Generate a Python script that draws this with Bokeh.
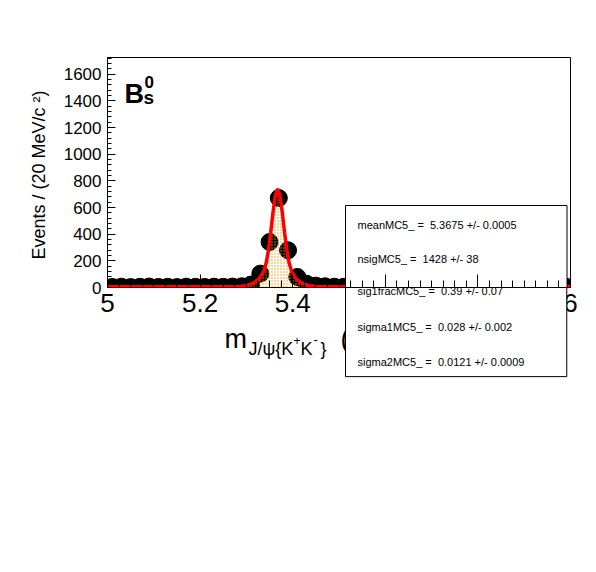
from bokeh.plotting import figure
from bokeh.models import Range1d, FixedTicker, Label, BoxAnnotation, ColumnDataSource
from bokeh.embed import file_html
from bokeh.resources import INLINE

# ---------------- data ----------------
bin_centers = [5.01, 5.03, 5.05, 5.07, 5.09, 5.11, 5.13, 5.15, 5.17, 5.19,
               5.21, 5.23, 5.25, 5.27, 5.29, 5.31, 5.33, 5.35, 5.37, 5.39,
               5.41, 5.43, 5.45, 5.47, 5.49, 5.51, 5.53, 5.55, 5.57, 5.59,
               5.61, 5.63, 5.65, 5.67, 5.69, 5.71, 5.73, 5.75, 5.77, 5.79,
               5.81, 5.83, 5.85, 5.87, 5.89, 5.91, 5.93, 5.95, 5.97, 5.99]
counts = [4, 6, 3, 5, 7, 4, 5, 3, 6, 5,
          4, 6, 5, 7, 9, 22, 104, 341, 671, 279,
          79, 28, 14, 9, 6, 5, 4, 6, 5, 4,
          5, 6, 4, 5, 3, 5, 6, 4, 5, 4,
          6, 5, 4, 5, 6, 4, 5, 3, 5, 6]

curve_x = [5.0, 5.2675, 5.2875, 5.2975, 5.3075, 5.3175, 5.3275, 5.3375, 5.3425,
           5.3475, 5.3525, 5.3575, 5.3625, 5.3675, 5.3725, 5.3775, 5.3825,
           5.3875, 5.3925, 5.3975, 5.4075, 5.4175, 5.4275, 5.4375, 5.4475,
           5.4675, 6.0]
total_pdf = [7, 7, 10, 14, 23, 39, 67, 123, 181, 277, 411, 564, 691, 740,
             691, 564, 411, 277, 181, 123, 67, 39, 23, 14, 10, 7, 7]
signal_pdf = [0, 0, 3, 7, 16, 32, 60, 116, 174, 270, 404, 557, 684, 733,
              684, 557, 404, 270, 174, 116, 60, 32, 16, 7, 3, 0, 0]

x_ticks = [5, 5.2, 5.4, 5.6, 5.8, 6]
x_tick_labels = ["5", "5.2", "5.4", "5.6", "5.8", "6"]
x_minor = [5 + 0.025 * i for i in range(41)]
y_ticks = [0, 200, 400, 600, 800, 1000, 1200, 1400, 1600]
y_minor = [40 * i for i in range(44)]

fit_lines = ["meanMC5_ =\u00a0 5.3675 +/- 0.0005",
             "nsigMC5_ =\u00a0 1428 +/- 38",
             "sig1fracMC5_ =\u00a0 0.39 +/- 0.07",
             "sigma1MC5_ =\u00a0 0.028 +/- 0.002",
             "sigma2MC5_ =\u00a0 0.0121 +/- 0.0009"]

FONT = "Liberation Sans"
X0, X1, Y0, Y1 = 5.0, 6.0, 0.0, 1725.0

# ---------------- figure ----------------
p = figure(width=596, height=572, output_backend="svg", toolbar_location=None,
           x_range=Range1d(X0, X1), y_range=Range1d(Y0, Y1),
           min_border_left=107, min_border_right=26,
           min_border_top=57, min_border_bottom=285)
p.grid.visible = False
p.outline_line_color = "black"
p.outline_line_width = 1
p.background_fill_color = "white"
p.border_fill_color = "white"

xa = p.xaxis[0]
xa.ticker = FixedTicker(ticks=x_ticks, minor_ticks=x_minor)
xa.major_label_overrides = {t: s for t, s in zip(x_ticks, x_tick_labels)}
xa.major_tick_in = 13
xa.major_tick_out = 0
xa.minor_tick_in = 7
xa.minor_tick_out = 0
xa.major_label_standoff = 6
xa.major_label_text_font = FONT
xa.major_label_text_font_size = "26px"
xa.major_label_text_color = "black"
xa.axis_line_color = "black"
xa.major_tick_line_color = "black"
xa.minor_tick_line_color = "black"

ya = p.yaxis[0]
ya.ticker = FixedTicker(ticks=y_ticks, minor_ticks=y_minor)
ya.major_tick_in = 8
ya.major_tick_out = 0
ya.minor_tick_in = 4
ya.minor_tick_out = 0
ya.major_label_standoff = 6
ya.major_label_text_font = FONT
ya.major_label_text_font_size = "17px"
ya.major_label_text_color = "black"
ya.axis_label = "Events / (20 MeV/c  ²)"
ya.axis_label_text_font = FONT
ya.axis_label_text_font_style = "normal"
ya.axis_label_text_font_size = "18px"
ya.axis_label_text_color = "black"
ya.axis_label_standoff = 12
ya.axis_line_color = "black"
ya.major_tick_line_color = "black"
ya.minor_tick_line_color = "black"

# ---------------- glyphs ----------------
data_src = ColumnDataSource(dict(x=bin_centers, y=counts))
curve_src = ColumnDataSource(dict(x=curve_x, tot=total_pdf, sig=signal_pdf))

p.scatter("x", "y", source=data_src, size=17, marker="circle",
          fill_color="black", line_color="black")
p.varea(x="x", y1=0, y2="sig", source=curve_src, fill_alpha=0,
        hatch_pattern="dot", hatch_color="#ff9900", hatch_scale=3, hatch_weight=2.6)
p.line("x", "sig", source=curve_src, line_color="#ff9900", line_width=1.5)
p.line("x", "tot", source=curve_src, line_color="red", line_width=3.5)

# ---------------- annotations ----------------
# page-pixel -> axis-value helpers (frame: x 107..570, y 57..287)
FL, FR, FT, FB = 107, 570, 57, 287


def ax(X):
    return X0 + (X - FL) * (X1 - X0) / (FR - FL)


def ay(Y):
    return Y0 + (FB - Y) * (Y1 - Y0) / (FB - FT)


# upper part of the fit-result box (under the axis, over the data)
box_upper = BoxAnnotation(left=ax(345), right=ax(566.5), top=ay(205), bottom=ay(300),
                          fill_color="white", fill_alpha=1.0,
                          line_color="black", line_width=1, line_alpha=1.0,
                          level="glyph")
p.add_layout(box_upper)


def lab(text, X, Y, size, style="normal", baseline="alphabetic", side=None):
    L = Label(x=ax(X), y=ay(Y), text=text, text_font=FONT, text_font_size=size,
              text_font_style=style, text_color="black",
              text_align="left", text_baseline=baseline)
    if side is None:
        p.add_layout(L)
    else:
        p.add_layout(L, side)


# B_s^0
lab("B", 124, 93, "27px", "bold")
lab("0", 144, 81, "17px", "bold")
lab("s", 143, 96.5, "19px", "bold")

# x-axis title (positions in axis values, so the panel they sit in does not matter)
lab("m", 224, 338, "27px", side="below")
lab("J/ψ{K", 248, 348, "18px", side="below")
lab("+", 293, 340, "12px", side="above")
lab("K", 300, 348, "18px", side="below")
lab("-", 313, 339, "13px", side="above")
lab("}", 320, 348, "18px", side="below")
lab("(GeV/c²)", 340, 338, "27px", side="below")

# lower part of the fit-result box: an empty label with a white, framed background
box_lower = Label(x=ax(345), y=ay(287), text=" ", text_font=FONT, text_font_size="1px",
                  text_align="left", text_baseline="top",
                  background_fill_color="white", background_fill_alpha=1.0,
                  border_line_color="black", border_line_width=1, border_line_alpha=1.0,
                  padding=dict(left=0, right=221, top=0, bottom=88))
p.add_layout(box_lower, "below")

row_y = [224, 258.3, 290.7, 326.7, 361.7]
for i, (t, yy) in enumerate(zip(fit_lines, row_y)):
    lab(t, 357, yy, "11px", baseline="middle", side=None if i < 2 else "below")

open("out.html", "w").write(file_html(p, INLINE))
